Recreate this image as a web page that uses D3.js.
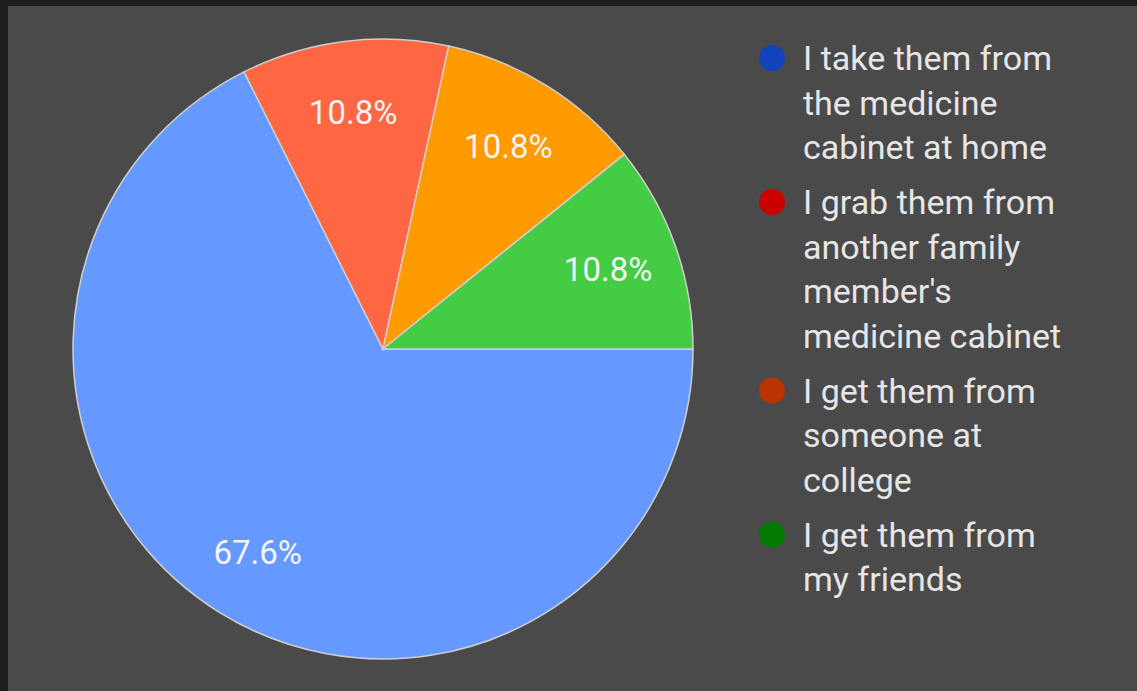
<!DOCTYPE html>
<html>
<head>
<meta charset="utf-8">
<script src="https://cdn.jsdelivr.net/npm/d3@7"></script>
<style>
  html, body { margin: 0; padding: 0; background: #1e1e1e; }
  svg { display: block; }
</style>
</head>
<body>
<svg id="chart" width="1137" height="691"></svg>
<script>
// ---- data ----
const categories = [
  "I take them from the medicine cabinet at home",
  "I grab them from another family member's medicine cabinet",
  "I get them from someone at college",
  "I get them from my friends"
];
const values = [67.6, 10.8, 10.8, 10.8];
const sliceLabels = ["67.6%", "10.8%", "10.8%", "10.8%"];
const legendLines = [
  ["I take them from", "the medicine", "cabinet at home"],
  ["I grab them from", "another family", "member's", "medicine cabinet"],
  ["I get them from", "someone at", "college"],
  ["I get them from", "my friends"]
];
const sliceColors = ["#6699ff", "#ff6644", "#ff9a00", "#44cc44"];
const legendColors = ["#1144bb", "#cc0000", "#bb3300", "#007a00"];

// ---- layout ----
const W = 1137, H = 691;
const svg = d3.select("#chart");
svg.append("rect").attr("x", 8).attr("y", 6).attr("width", W - 8).attr("height", H - 6).attr("fill", "#4a4a4a");

const cx = 383, cy = 349, r = 310;
const g = svg.append("g").attr("transform", `translate(${cx},${cy})`);

const pie = d3.pie().sort(null).value(d => d)
  .startAngle(Math.PI / 2).endAngle(Math.PI / 2 + 2 * Math.PI);
const arcs = pie(values);
const arc = d3.arc().innerRadius(0).outerRadius(r);
const labelArc = d3.arc().innerRadius(r * 0.77).outerRadius(r * 0.77);

g.selectAll("path.slice").data(arcs).join("path")
  .attr("class", "slice")
  .attr("d", arc)
  .attr("fill", (d, i) => sliceColors[i])
  .attr("stroke", "#cfcfcf")
  .attr("stroke-width", 1.5);

g.selectAll("text.pct").data(arcs).join("text")
  .attr("class", "pct")
  .attr("transform", d => `translate(${labelArc.centroid(d)})`)
  .attr("text-anchor", "middle")
  .attr("dy", "0.36em")
  .attr("font-family", "Roboto, sans-serif")
  .attr("font-size", 33)
  .attr("fill", "#f4f4f4")
  .text((d, i) => sliceLabels[i]);

// ---- legend ----
const legend = svg.append("g").attr("class", "legend");
const lineH = 44.5, entryGap = 10.5;
let y = 58;
legendLines.forEach((lines, i) => {
  const item = legend.append("g");
  item.append("circle").attr("cx", 772).attr("cy", y).attr("r", 13).attr("fill", legendColors[i]);
  lines.forEach((ln, j) => {
    item.append("text")
      .attr("x", 803).attr("y", y + j * lineH)
      .attr("dy", "0.36em")
      .attr("font-family", "Roboto, sans-serif")
      .attr("font-size", 34)
      .attr("fill", "#e6e6e6")
      .text(ln);
  });
  y += lines.length * lineH + entryGap;
});
</script>
</body>
</html>
